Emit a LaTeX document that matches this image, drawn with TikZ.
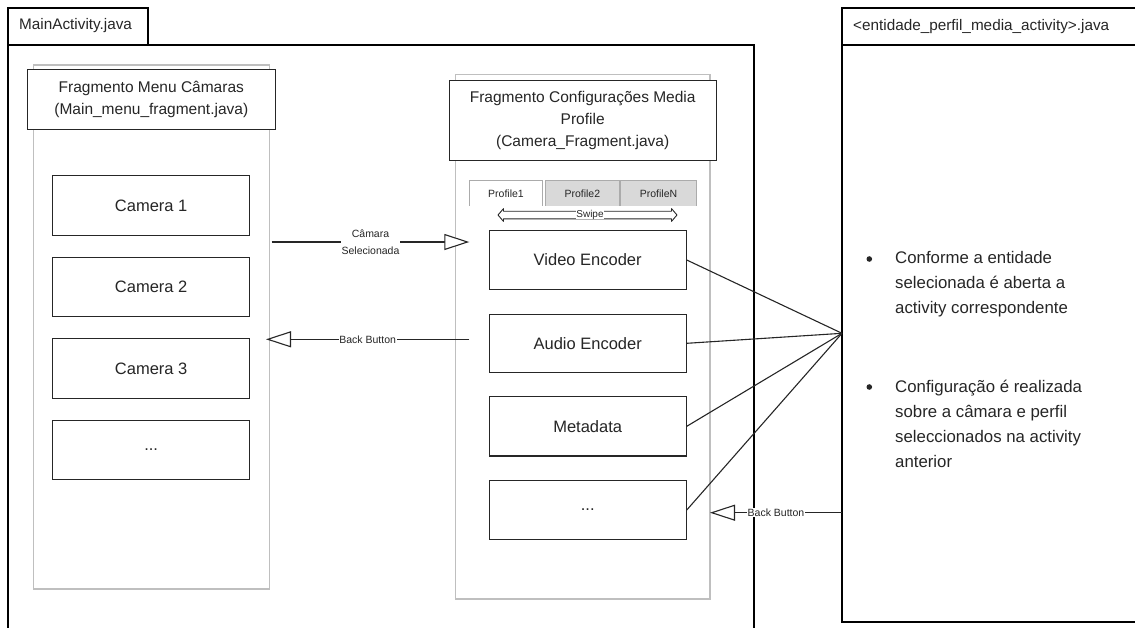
\documentclass[tikz,border=0pt]{standalone}
\usepackage{fontspec}
\setmainfont{Liberation Sans}
\usetikzlibrary{arrows.meta}
\definecolor{ink}{HTML}{262626}
\definecolor{fraggray}{HTML}{BFBFBF}
\definecolor{tabgray}{HTML}{ABABAB}
\definecolor{tabfill}{HTML}{D9D9D9}
\begin{document}
\begin{tikzpicture}[x=1pt,y=-1pt,
  frame/.style={draw=black, line width=1.1pt},
  fragbox/.style={draw=fraggray, line width=1.2pt, inner sep=0pt},
  head/.style={draw=ink, line width=1.1pt, fill=white, inner sep=0pt, align=center, text=ink, font=\fontsize{15.5}{22}\selectfont},
  item/.style={draw=ink, line width=1.1pt, fill=white, inner sep=0pt, minimum width=197pt, text=ink, font=\fontsize{16.5}{20}\selectfont},
  tab/.style={inner sep=0pt, minimum width=74pt, minimum height=24.7pt, text=ink, font=\fontsize{10.5}{12}\selectfont},
  tabedge/.style={draw=tabgray, line width=1pt},
  conn/.style={draw=ink, line width=1.1pt},
  flow/.style={conn, -{Triangle[length=25pt,width=16pt,fill=white,line width=1.1pt]}},
  lbl/.style={fill=white, inner sep=0.6pt, text=ink, font=\fontsize{10.5}{16.5}\selectfont, align=center},
  title/.style={anchor=west, inner sep=0pt, text=ink, font=\fontsize{15.3}{18}\selectfont},
  bul/.style={anchor=center, inner sep=0pt, fill=ink, circle, minimum size=5.6pt},
  btext/.style={anchor=north west, inner sep=0pt, align=left, text=ink, font=\fontsize{16.8}{25}\selectfont}
]
\useasboundingbox (0,0) rectangle (1135,627);
\clip (0,0) rectangle (1135,627);

% activity frames
\draw[frame] (8,640) -- (8,8) -- (148,8) -- (148,45);
\draw[frame] (8,45) -- (754,45) -- (754,640);
\draw[frame] (1145,622) -- (842,622) -- (842,8) -- (1145,8);
\draw[frame] (842,45) -- (1145,45);
\node[title] (mainTitle) at (19,26) {MainActivity.java};
\node[title] (entTitle) at (853,27) {<entidade\_perfil\_media\_activity>.java};

% fragment containers
\node[fragbox, anchor=north west, minimum width=236.5pt, minimum height=524pt] (fragL) at (32.5,64.3) {};
\node[fragbox, anchor=north west, minimum width=254.3pt, minimum height=524.3pt] (fragM) at (455,74) {};

\node[head, minimum width=248pt, minimum height=60pt] (hdrL) at (151.3,99.2)
  {Fragmento Menu Câmaras\\(Main\_menu\_fragment.java)};
\node[head, minimum width=267pt, minimum height=80pt] (hdrM) at (582.7,120.7)
  {Fragmento Configurações Media\\Profile\\(Camera\_Fragment.java)};

% camera list
\node[item, minimum height=59.6pt] (cam1) at (151.2,205.5) {Camera 1};
\node[item, minimum height=59.4pt] (cam2) at (151.2,287) {Camera 2};
\node[item, minimum height=59.3pt] (cam3) at (151.2,368.4) {Camera 3};
\node[item, minimum height=59.3pt] (camN) at (151.2,449.7) {...};

% profile tabs
\node[tab, fill=white, minimum width=73.4pt] (tab1) at (506,193.3) {Profile1};
\node[tab, fill=tabfill] (tab2) at (582.3,193.3) {Profile2};
\node[tab, fill=tabfill, minimum width=75pt] (tab3) at (658.5,193.3) {ProfileN};
\foreach \t in {tab1,tab2,tab3}
  \draw[tabedge] (\t.south west) -- (\t.north west) -- (\t.north east) -- (\t.south east);

% swipe gesture: outlined double arrow
\draw[draw=ink, line width=0.9pt, fill=white, line join=round]
  (498,215) -- (503.5,208.6) -- (503.5,211.2) -- (671.5,211.2) -- (671.5,208.6)
  -- (677,215) -- (671.5,221.4) -- (671.5,218.8) -- (503.5,218.8) -- (503.5,221.4) -- cycle;
\node[lbl, font=\fontsize{10}{12}\selectfont, inner sep=0pt] (swipeLbl) at (590,214.5) {Swipe};

% media profile entities
\node[item, minimum height=58.6pt] (venc) at (587.7,260) {Video Encoder};
\node[item, minimum height=58pt] (aenc) at (587.7,343.3) {Audio Encoder};
\node[item, minimum height=59.3pt] (meta) at (587.7,426.3) {Metadata};
\node[item, minimum height=58.3pt] (more) at (587.7,510) {...};

% navigation
\coordinate (selFrom) at (271.7,242);
\coordinate (selTo) at (469.3,242);
\draw[flow] (selFrom) -- node[lbl] (selLbl) {Câmara\\Selecionada} (selTo);

\coordinate (backFrom) at (469.3,339.3);
\coordinate (backTo) at (266,339.3);
\draw[flow] (backFrom) -- node[lbl] (backLbl) {Back Button} (backTo);

\coordinate (conv) at (842,333.3);
\foreach \b in {venc,aenc,meta,more}
  \draw[conn] (\b.east) -- (conv);

\coordinate (back2From) at (842,512.7);
\coordinate (back2To) at (710,512.7);
\draw[flow] (back2From) -- node[lbl] (back2Lbl) {Back Button} (back2To);

% notes on the entity activity
\node[bul] (dot1) at (869.3,259) {};
\node[btext] (txt1) at (895,251.5)
  {Conforme a entidade\\selecionada é aberta a\\activity correspondente};
\node[bul] (dot2) at (869.3,387) {};
\node[btext] (txt2) at (895,379.5)
  {Configuração é realizada\\sobre a câmara e perfil\\seleccionados na activity\\anterior};
\end{tikzpicture}
\end{document}
